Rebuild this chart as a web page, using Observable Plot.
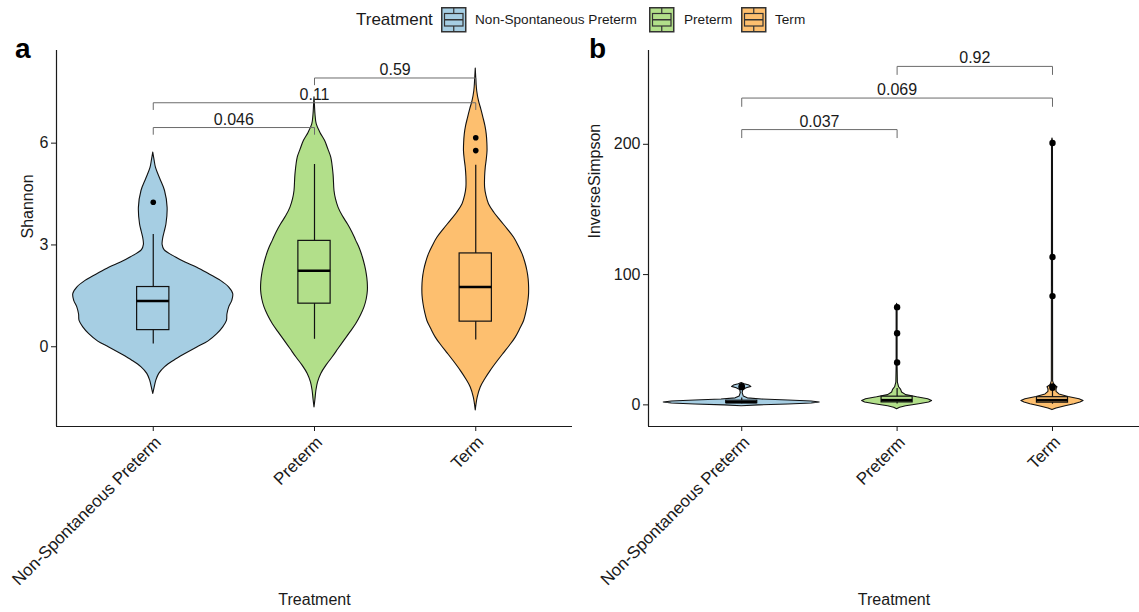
<!DOCTYPE html>
<html><head><meta charset="utf-8">
<script src="https://cdn.jsdelivr.net/npm/d3@7"></script>
<script src="https://cdn.jsdelivr.net/npm/@observablehq/plot@0.6"></script>
<style>
body{margin:0;background:#fff;font-family:"Liberation Sans",Arial,sans-serif;}
#wrap{position:relative;width:1139px;height:612px;overflow:hidden;background:#fff;}
.panel{position:absolute;top:40px;}
.tag{position:absolute;font-weight:bold;font-size:28px;line-height:28px;color:#000;}
.leg{position:absolute;white-space:nowrap;color:#1a1a1a;}
</style></head><body><div id="wrap"></div>
<script>
const categories = ["Non-Spontaneous Preterm", "Preterm", "Term"];
const colors = ["#A6CEE3", "#B2DF8A", "#FDBF6F"];

// ---- Panel a: Shannon ----
// violin outlines: [value, half-width in category units]
const shannonViolinNSP = [[-1.39,0],[-1.2,0.009],[-1.0,0.019],[-0.8,0.037],[-0.6,0.074],[-0.41,0.13],[-0.2,0.205],[-0.02,0.273],[0.15,0.341],[0.37,0.397],[0.57,0.434],[0.76,0.457],[0.95,0.46],[1.16,0.471],[1.35,0.49],[1.55,0.496],[1.75,0.47],[1.94,0.42],[2.13,0.35],[2.33,0.273],[2.48,0.2],[2.63,0.141],[2.85,0.07],[3.0,0.058],[3.2,0.062],[3.4,0.072],[3.61,0.082],[4.1,0.089],[4.59,0.073],[4.95,0.043],[5.27,0.017],[5.5,0.008],[5.72,0]];
const shannonViolinPreterm = [[-1.79,0],[-1.55,0.006],[-1.29,0.012],[-1.05,0.022],[-0.8,0.042],[-0.55,0.075],[-0.31,0.113],[-0.06,0.15],[0.18,0.186],[0.43,0.224],[0.67,0.259],[0.92,0.288],[1.16,0.31],[1.4,0.324],[1.65,0.331],[1.9,0.33],[2.14,0.324],[2.38,0.314],[2.63,0.3],[2.88,0.282],[3.12,0.259],[3.37,0.235],[3.61,0.207],[3.85,0.175],[4.1,0.149],[4.35,0.133],[4.59,0.124],[5.08,0.118],[5.57,0.104],[5.8,0.087],[6.06,0.066],[6.3,0.037],[6.55,0.014],[6.85,0.006],[7.1,0.003],[7.35,0]];
const shannonViolinTerm = [[-1.88,0],[-1.5,0.012],[-1.2,0.031],[-0.95,0.06],[-0.71,0.093],[-0.45,0.133],[-0.21,0.172],[0.03,0.212],[0.27,0.248],[0.52,0.276],[0.76,0.3],[1.01,0.314],[1.26,0.324],[1.5,0.33],[1.74,0.331],[1.99,0.328],[2.24,0.32],[2.49,0.307],[2.73,0.29],[2.97,0.266],[3.21,0.238],[3.46,0.198],[3.71,0.155],[3.95,0.115],[4.2,0.082],[4.45,0.066],[4.69,0.058],[5.0,0.058],[5.27,0.062],[5.5,0.068],[5.76,0.073],[6.0,0.072],[6.26,0.068],[6.5,0.06],[6.74,0.048],[7.0,0.034],[7.24,0.02],[7.53,0.009],[7.85,0.004],[8.2,0]];
// boxplot stats: [lower whisker, Q1, median, Q3, upper whisker]
const shannonBoxes = [[0.08,0.49,1.35,1.76,3.31],[0.22,1.27,2.24,3.12,5.37],[0.20,0.74,1.76,2.75,5.35]];
const shannonOutliers = [[4.26],[],[6.16,5.78]];
const shannonBrackets = [
  {from:0, to:1, y:6.46, tip:6.26, label:"0.046"},
  {from:0, to:2, y:7.19, tip:6.99, label:"0.11"},
  {from:1, to:2, y:7.92, tip:7.72, label:"0.59"}];
const shannonTicks = [0, 3, 6];

// ---- Panel b: InverseSimpson ----
const invViolinNSP = [[-1.0,0],[-0.4,0.11],[0.3,0.3],[1.0,0.45],[1.8,0.502],[2.6,0.45],[3.4,0.3],[4.1,0.13],[5.0,0.039],[6.5,0.013],[9,0.006],[11.5,0.01],[12.8,0.032],[13.8,0.062],[14.8,0.05],[15.8,0.019],[16.8,0]];
const invViolinPreterm = [[-3.3,0],[-2.2,0.019],[-1,0.058],[0.5,0.142],[1.8,0.206],[3.0,0.225],[4.3,0.2],[5.8,0.129],[7.5,0.058],[9.5,0.032],[11.5,0.026],[13.5,0.013],[17,0.005],[30,0.003],[76,0.003],[77.5,0]];
const invViolinTerm = [[-4,0],[-2.8,0.026],[-1,0.084],[0.5,0.142],[1.8,0.18],[3.0,0.2],[4.3,0.174],[6,0.103],[8,0.045],[10,0.026],[12,0.026],[13.5,0.032],[15,0.013],[18,0.004],[202,0.003],[204.5,0]];
const invBoxes = [[0.9,1.3,2.1,3.2,5.2],[0.6,1.9,3.6,6.3,12.5],[0.5,1.7,3.6,5.9,11.5]];
const invOutliers = [[13.6,14.3],[32.5,55,75],[13.2,14.2,83.5,113.5,201]];
const invBrackets = [
  {from:0, to:1, y:211.3, tip:205.1, label:"0.037"},
  {from:0, to:2, y:235.5, tip:229.1, label:"0.069"},
  {from:1, to:2, y:259.8, tip:253.6, label:"0.92"}];
const invTicks = [0, 100, 200];

const FONT = "'Liberation Sans', Arial, sans-serif";

function panel({violins, boxes, outliers, brackets, yDomain, yTicks, yLabel, xDomain, width, marginLeft, marginRight, labelDx, curve, dotR}) {
  const violin = violins.flatMap((p, i) => p.map(([v, w]) => ({cat: categories[i], i, v, w})));
  const boxData = boxes.map((b, i) => ({cat: categories[i], i, lo: b[0], q1: b[1], med: b[2], q3: b[3], hi: b[4]}));
  const outData = outliers.flatMap((o, i) => o.map(v => ({i, v})));
  const brLines = brackets.flatMap((b, k) => [
    {k, x: b.from + 1, y: b.tip}, {k, x: b.from + 1, y: b.y},
    {k, x: b.to + 1, y: b.y}, {k, x: b.to + 1, y: b.tip}]);
  const bw = 0.1;
  const svg = Plot.plot({
    width, height: 572, marginLeft, marginRight, marginTop: 10, marginBottom: 186,
    style: {fontFamily: FONT, fontSize: "16px", color: "#1a1a1a", background: "transparent", overflow: "visible"},
    x: {domain: xDomain, ticks: [1, 2, 3], tickFormat: d => categories[d - 1], tickRotate: -45, tickSize: 5, tickPadding: 3, label: null},
    y: {domain: yDomain, ticks: yTicks, tickSize: 5, tickPadding: 3, label: null},
    color: {domain: categories, range: colors},
    marks: [
      Plot.areaX(violin, {y: "v", x1: d => d.i + 1 - d.w, x2: d => d.i + 1 + d.w, z: "cat", fill: "cat", stroke: "#111", strokeWidth: 1.1, curve}),
      Plot.ruleX(boxData, {x: d => d.i + 1, y1: "lo", y2: "hi", stroke: "#111", strokeWidth: 1.2}),
      Plot.rect(boxData, {x1: d => d.i + 1 - bw, x2: d => d.i + 1 + bw, y1: "q1", y2: "q3", fill: "cat", stroke: "#111", strokeWidth: 1.2}),
      Plot.ruleY(boxData, {y: "med", x1: d => d.i + 1 - bw, x2: d => d.i + 1 + bw, stroke: "#000", strokeWidth: 2.6}),
      Plot.dot(outData, {x: d => d.i + 1, y: "v", r: dotR, fill: "#000", stroke: "none"}),
      Plot.line(brLines, {x: "x", y: "y", z: "k", stroke: "#6b6b6b", strokeWidth: 1}),
      Plot.text(brackets, {x: d => (d.from + d.to) / 2 + 1, y: "y", text: "label", lineAnchor: "bottom", dy: -3, fontSize: 16, fill: "#1a1a1a"}),
      Plot.ruleX([xDomain[0]], {stroke: "#1a1a1a", strokeWidth: 1.2}),
      Plot.ruleY([yDomain[0]], {stroke: "#1a1a1a", strokeWidth: 1.2}),
      Plot.text([yLabel], {frameAnchor: "left", dx: labelDx, rotate: -90, fontSize: 16, fill: "#1a1a1a"}),
      Plot.text(["Treatment"], {frameAnchor: "bottom", dy: 178, fontSize: 16, fill: "#1a1a1a"})
    ]
  });
  // nudge rotated category labels (ggplot hjust=1, vjust=1 placement)
  svg.querySelectorAll('g[aria-label="x-axis tick label"]').forEach(g => {
    g.setAttribute("transform", ((g.getAttribute("transform") || "") + " translate(5,5)").trim());
    g.setAttribute("font-size", "17");
  });
  return svg;
}

const wrap = document.getElementById("wrap");

const pa = panel({
  violins: [shannonViolinNSP, shannonViolinPreterm, shannonViolinTerm],
  boxes: shannonBoxes, outliers: shannonOutliers, brackets: shannonBrackets,
  yDomain: [-2.35, 8.73], yTicks: shannonTicks, yLabel: "Shannon",
  xDomain: [0.4, 3.6], width: 580, marginLeft: 56, marginRight: 8, labelDx: -29, curve: "catmull-rom", dotR: 2.8
});
pa.classList.add("panel"); pa.style.left = "0px";
wrap.appendChild(pa);

const pb = panel({
  violins: [invViolinNSP, invViolinPreterm, invViolinTerm],
  boxes: invBoxes, outliers: invOutliers, brackets: invBrackets,
  yDomain: [-16.6, 272], yTicks: invTicks, yLabel: "InverseSimpson",
  xDomain: [0.4, 3.56], width: 559, marginLeft: 68, marginRight: 0, labelDx: -54, curve: "linear", dotR: 3.2
});
pb.classList.add("panel"); pb.style.left = "580px";
wrap.appendChild(pb);

// panel tags
const w = d3.select(wrap);
w.append("div").attr("class", "tag").style("left", "15px").style("top", "35px").text("a");
w.append("div").attr("class", "tag").style("left", "589px").style("top", "35px").text("b");

// legend
w.append("div").attr("class", "leg").style("left", "356px").style("top", "10px")
  .style("font-size", "17px").style("line-height", "20px").text("Treatment");
const keyX = [441, 649, 741];
const labX = [475, 684, 775];
categories.forEach((c, i) => {
  const s = w.append("svg").attr("width", 26).attr("height", 26)
    .style("position", "absolute").style("left", keyX[i] + "px").style("top", "7px");
  s.append("rect").attr("x", 0.75).attr("y", 0.75).attr("width", 24).attr("height", 24)
    .attr("fill", colors[i]).attr("stroke", "#333").attr("stroke-width", 1.5);
  s.append("line").attr("x1", 12.75).attr("x2", 12.75).attr("y1", 1).attr("y2", 6.5).attr("stroke", "#333").attr("stroke-width", 1.2);
  s.append("line").attr("x1", 12.75).attr("x2", 12.75).attr("y1", 19).attr("y2", 24.5).attr("stroke", "#333").attr("stroke-width", 1.2);
  s.append("rect").attr("x", 3.5).attr("y", 6.5).attr("width", 18.5).attr("height", 12.5)
    .attr("fill", colors[i]).attr("stroke", "#333").attr("stroke-width", 1.2);
  s.append("line").attr("x1", 3.5).attr("x2", 22).attr("y1", 12.75).attr("y2", 12.75).attr("stroke", "#333").attr("stroke-width", 1.5);
  w.append("div").attr("class", "leg").style("left", labX[i] + "px").style("top", "11px")
    .style("font-size", "13.6px").style("line-height", "18px").text(c);
});
</script></body></html>
